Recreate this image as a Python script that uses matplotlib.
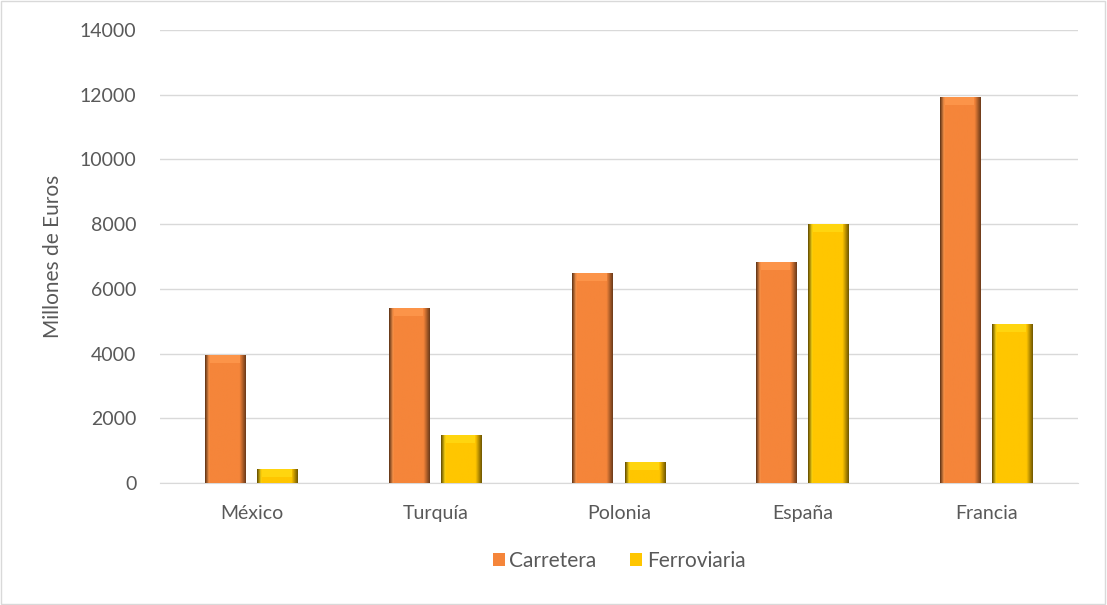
import numpy as np
import matplotlib.pyplot as plt
from matplotlib.patches import Rectangle

paises = ["México", "Turquía", "Polonia", "España", "Francia"]
carretera = [3950, 5400, 6490, 6830, 11930]
ferroviaria = [430, 1480, 650, 8000, 4910]
y_ticks = [0, 2000, 4000, 6000, 8000, 10000, 12000, 14000]

plt.rcParams["font.family"] = ["Lato", "DejaVu Sans"]
text_color = "#595959"


def shade_bars(ax, bars, base):
    # horizontal gradient clipped to each bar to mimic the bevel look
    c = np.array(plt.matplotlib.colors.to_rgb(base))
    xs = np.linspace(0, 1, 64)
    light = np.clip(c + 0.08, 0, 1)
    dark = c * 0.45
    cols = []
    for t in xs:
        if t < 0.1:
            k = t / 0.1
            cols.append(dark * 0.9 * (1 - k) + light * k)
        elif t > 0.85:
            k = (t - 0.85) / 0.15
            cols.append(c * (1 - k) + dark * k)
        else:
            cols.append(c)
    img = np.array(cols)[None, :, :]
    for b in bars:
        x0, y0 = b.get_x(), b.get_y()
        w, h = b.get_width(), b.get_height()
        im = ax.imshow(img, extent=(x0, x0 + w, y0, y0 + h), aspect="auto",
                       zorder=3, interpolation="bilinear")
        im.set_clip_path(b)
        # lighter top cap
        cap = min(h, 250)
        ax.add_patch(Rectangle((x0 + w * 0.12, y0 + h - cap), w * 0.72, cap,
                               facecolor=light, edgecolor="none", zorder=4,
                               alpha=0.8))


fig = plt.figure(figsize=(11.07, 6.05), dpi=100)
ax = fig.add_axes([160 / 1107, 1 - 483 / 605, 918 / 1107, 453 / 605])

x = np.arange(len(paises))
w = 0.223
b1 = ax.bar(x - 0.142, carretera, w, color="#F5853A", zorder=2, label="Carretera")
b2 = ax.bar(x + 0.142, ferroviaria, w, color="#FFC600", zorder=2, label="Ferroviaria")
shade_bars(ax, b1, "#F5853A")
shade_bars(ax, b2, "#FFC600")

ax.set_xlim(-0.5, len(paises) - 0.5)
ax.set_ylim(0, 14000)
ax.set_yticks(y_ticks)
ax.set_xticks(x)
ax.set_xticklabels(paises)
ax.tick_params(axis="both", length=0, labelsize=14, colors=text_color)
ax.tick_params(axis="x", pad=16)
ax.tick_params(axis="y", pad=17)
ax.yaxis.grid(True, color="#D9D9D9", linewidth=1)
ax.set_axisbelow(True)
for s in ["top", "right", "left"]:
    ax.spines[s].set_visible(False)
ax.spines["bottom"].set_color("#D9D9D9")
ax.set_ylabel("Millones de Euros", fontsize=15, color=text_color, labelpad=12)

leg = ax.legend(loc="center", bbox_to_anchor=(0.5, -0.172), ncol=2,
                frameon=False, fontsize=15, handlelength=0.6, handleheight=0.6,
                columnspacing=1.6, handletextpad=0.2)
for t in leg.get_texts():
    t.set_color(text_color)

fig.patches.append(Rectangle((0.001, 0.001), 0.997, 0.997, transform=fig.transFigure,
                             fill=False, edgecolor="#D9D9D9", linewidth=1))

fig.savefig("out.png", dpi=100)
